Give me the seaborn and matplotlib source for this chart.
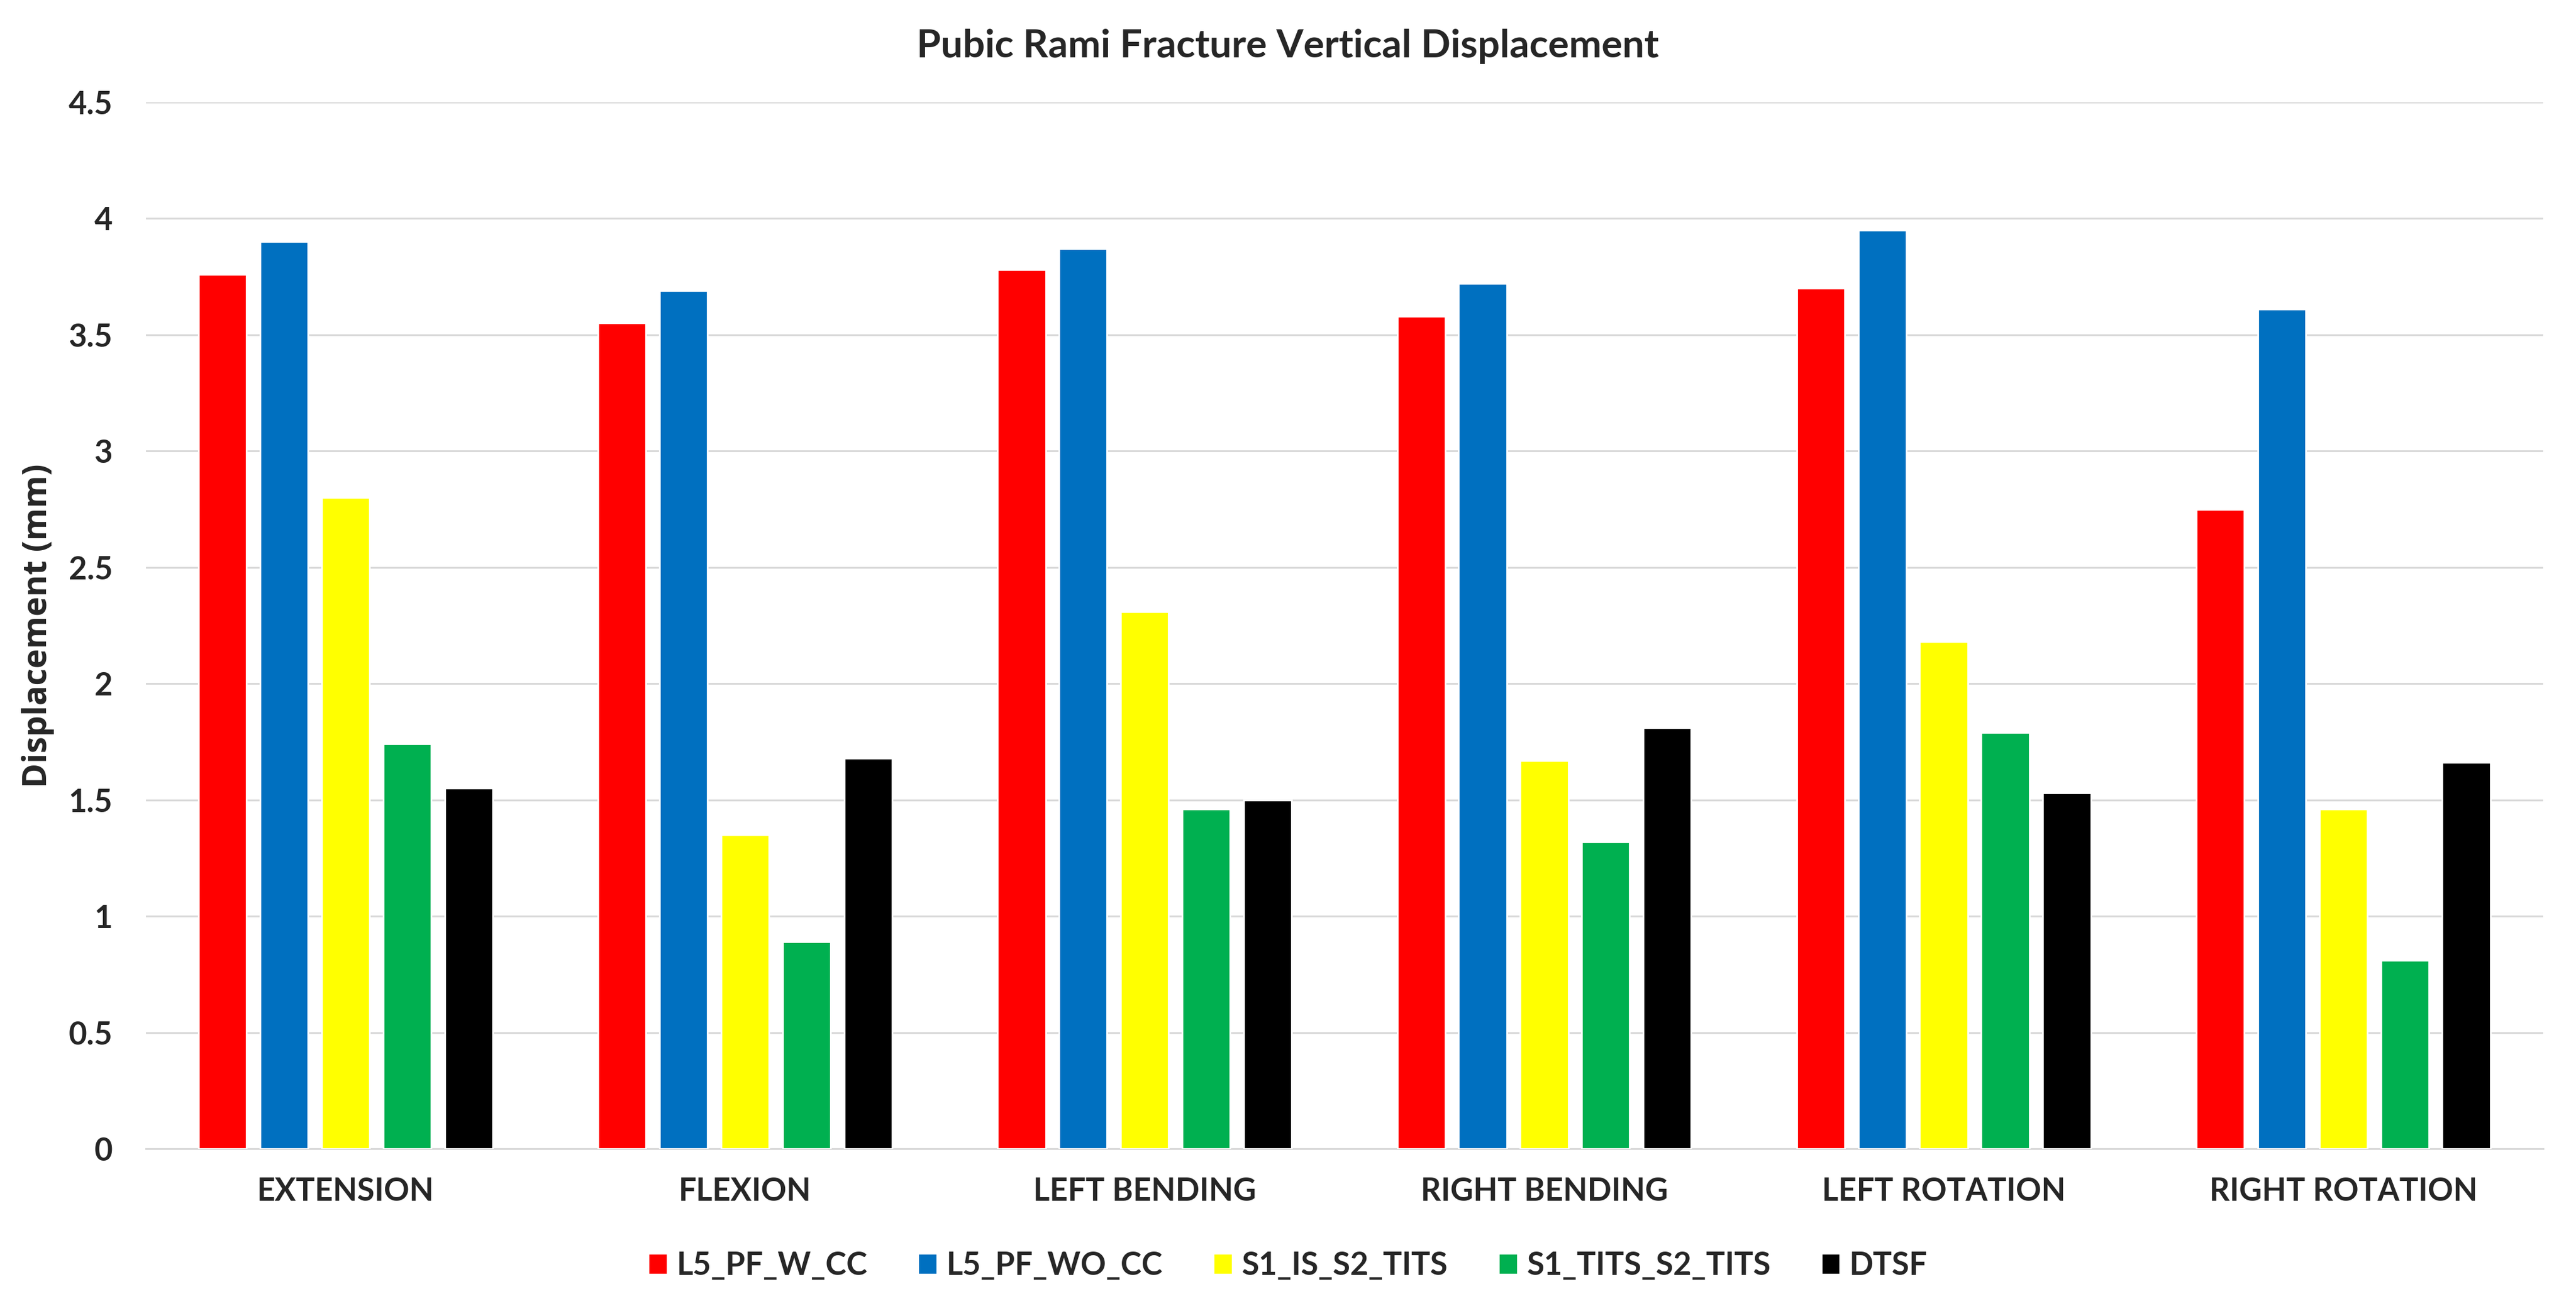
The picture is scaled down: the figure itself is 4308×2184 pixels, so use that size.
import pandas as pd
import matplotlib.pyplot as plt
import seaborn as sns

# categories (motions) and model names
motions = ['EXTENSION', 'FLEXION', 'LEFT BENDING', 'RIGHT BENDING',
           'LEFT ROTATION', 'RIGHT ROTATION']
models = ['L5_PF_W_CC', 'L5_PF_WO_CC', 'S1_IS_S2_TITS', 'S1_TITS_S2_TITS', 'DTSF']

# vertical displacement (mm)
l5_pf_w_cc = [3.76, 3.55, 3.78, 3.58, 3.70, 2.75]
l5_pf_wo_cc = [3.90, 3.69, 3.87, 3.72, 3.95, 3.61]
s1_is_s2_tits = [2.80, 1.35, 2.31, 1.67, 2.18, 1.46]
s1_tits_s2_tits = [1.74, 0.89, 1.46, 1.32, 1.79, 0.81]
dtsf = [1.55, 1.68, 1.50, 1.81, 1.53, 1.66]

colors = ['#FF0000', '#0070C0', '#FFFF00', '#00B050', '#000000']

series = [l5_pf_w_cc, l5_pf_wo_cc, s1_is_s2_tits, s1_tits_s2_tits, dtsf]
rows = []
for name, vals in zip(models, series):
    for m, v in zip(motions, vals):
        rows.append({'motion': m, 'model': name, 'disp': v})
df = pd.DataFrame(rows)

sns.set_theme(style='white')
plt.rcParams['font.family'] = ['Lato', 'DejaVu Sans']
plt.rcParams['font.weight'] = 'bold'

fig = plt.figure(figsize=(21.54, 10.92), dpi=200)
ax = fig.add_axes([0.0566, 0.1204, 0.9306, 0.8013])

sns.barplot(data=df, x='motion', y='disp', hue='model', order=motions,
            hue_order=models, palette=dict(zip(models, colors)),
            width=0.77, gap=0.22, saturation=1, ax=ax, legend=True, zorder=3)

ax.set_ylim(0, 4.5)
ax.set_xlim(-0.5, len(motions) - 0.5)
ax.set_yticks([0, 0.5, 1, 1.5, 2, 2.5, 3, 3.5, 4, 4.5])
ax.set_yticklabels(['0', '0.5', '1', '1.5', '2', '2.5', '3', '3.5', '4', '4.5'])
ax.yaxis.grid(True, color='#D9D9D9', linewidth=1.1, zorder=0)
ax.set_axisbelow(True)
for s in ['top', 'right', 'left']:
    ax.spines[s].set_visible(False)
ax.spines['bottom'].set_color('#D9D9D9')
ax.spines['bottom'].set_linewidth(1.1)
ax.tick_params(axis='both', length=0, labelsize=19)
ax.tick_params(axis='y', pad=20)
ax.tick_params(axis='x', pad=17)
for lbl in ax.get_xticklabels() + ax.get_yticklabels():
    lbl.set_fontweight('bold')

ax.set_xlabel('')
ax.set_ylabel('Displacement (mm)', fontsize=20, fontweight='bold',
              family=['Open Sans', 'DejaVu Sans'])
ax.yaxis.set_label_coords(-0.038, 0.5)

fig.suptitle('Pubic Rami Fracture Vertical Displacement', fontsize=23.5,
             fontweight='bold', y=0.978)

ax.legend_.remove()
handles, labels = ax.get_legend_handles_labels()
fig.legend(handles, labels, loc='center', bbox_to_anchor=(0.5, 0.031),
           ncol=5, frameon=False, handlelength=0.6,
           handleheight=0.65, handletextpad=0.3, columnspacing=1.6,
           prop={'weight': 'bold', 'size': 19})

fig.savefig('out.png', dpi=200, facecolor='white')
plt.close()
